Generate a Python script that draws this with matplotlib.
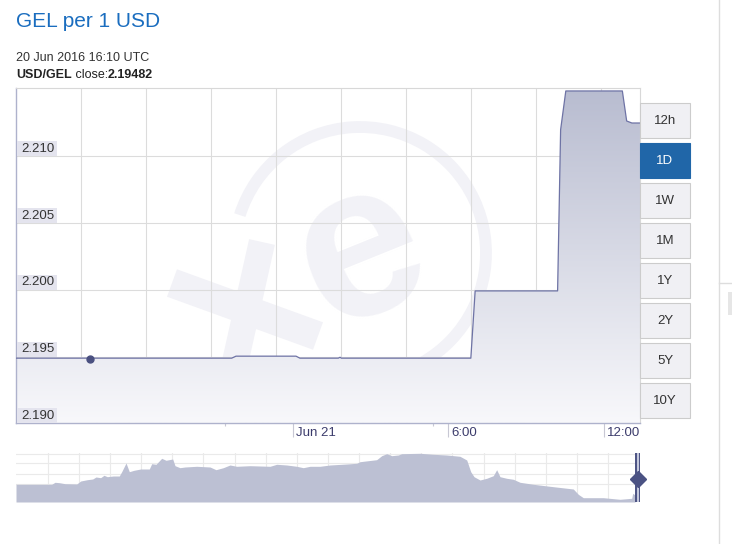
import matplotlib
matplotlib.use("Agg")
import matplotlib.pyplot as plt
import matplotlib.dates as mdates
import matplotlib.transforms as mtransforms
from matplotlib.patches import Rectangle, Arc
import numpy as np
import pandas as pd

plt.rcParams['font.family'] = ['Liberation Sans', 'DejaVu Sans']

# ---------------- data ----------------
title = "GEL per 1 USD"
hover_time_label = "20 Jun 2016 16:10 UTC"
pair_label = "USD/GEL"
close_value = "2.19482"

rate_times = ["2016-06-20 13:18", "2016-06-20 21:38", "2016-06-20 21:48",
              "2016-06-21 00:07", "2016-06-21 00:16", "2016-06-21 01:45",
              "2016-06-21 01:49", "2016-06-21 01:52", "2016-06-21 06:52",
              "2016-06-21 07:02", "2016-06-21 10:13", "2016-06-21 10:20",
              "2016-06-21 10:32", "2016-06-21 12:43", "2016-06-21 12:53",
              "2016-06-21 13:05", "2016-06-21 13:24"]
rate_values = [2.19488, 2.19488, 2.19503, 2.19503, 2.19488, 2.19488,
               2.19495, 2.19488, 2.19488, 2.19992, 2.19992, 2.21200,
               2.21490, 2.21490, 2.21265, 2.21250, 2.21250]

hover_time = "2016-06-20 16:10"
hover_value = 2.19482

x_range = ["2016-06-20 13:18:18", "2016-06-21 13:23:53"]
y_range = [2.190, 2.2151]
y_ticks = [2.190, 2.195, 2.200, 2.205, 2.210]
y_tick_labels = ["2.190", "2.195", "2.200", "2.205", "2.210"]
x_ticks = ["2016-06-21 00:00", "2016-06-21 06:00", "2016-06-21 12:00"]
x_tick_labels = ["Jun 21", "6:00", "12:00"]
x_minor_ticks = ["2016-06-20 21:22", "2016-06-21 05:25"]

range_buttons = ["12h", "1D", "1W", "1M", "1Y", "2Y", "5Y", "10Y"]
selected_button = "1D"

# navigator (long-term history), position in % of width, level in relative units
nav_pos = [0, 5.72, 6.25, 6.94, 7.85, 9.73, 10.37, 11.43, 12.29, 12.82, 13.57,
           14.10, 14.63, 15.59, 16.55, 16.94, 17.63, 18.16, 18.91, 19.98, 21.36,
           21.75, 22.44, 23.35, 24.04, 25.11, 25.48, 26.28, 27.08, 28.96, 31.09,
           32.05, 33.22, 34.29, 35.37, 37.50, 40.71, 41.78, 43.38, 44.98, 46.04,
           47.12, 48.72, 50.32, 53.00, 54.60, 55.13, 57.80, 58.61, 59.41, 60.21,
           61.27, 61.81, 64.74, 66.88, 69.02, 71.15, 72.23, 72.87, 73.40, 74.36,
           75.43, 76.49, 77.03, 77.56, 78.64, 79.70, 80.77, 82.90, 86.11, 89.31,
           90.11, 90.91, 94.12, 96.79, 98.67, 98.83, 99.20]
nav_level = [17.7, 17.7, 19.7, 19.3, 18.3, 18.0, 21.0, 22.3, 23.0, 25.0, 24.3,
             26.7, 25.3, 26.0, 26.0, 30.3, 39.0, 30.3, 31.7, 33.0, 33.0,
             38.3, 37.7, 43.7, 41.7, 43.0, 36.3, 34.3, 35.0, 35.7, 35.0,
             32.3, 34.3, 37.0, 35.7, 36.3, 35.7, 37.7, 37.0, 35.7, 34.3,
             35.7, 35.7, 37.0, 38.0, 38.7, 40.3, 42.3, 46.3, 48.3, 46.3,
             47.0, 48.3, 48.7, 47.7, 47.0, 45.7, 42.0, 30.3, 25.3, 22.0,
             23.7, 26.3, 32.3, 25.3, 23.7, 22.7, 19.7, 17.7, 15.3, 13.0,
             7.7, 4.3, 4.3, 2.7, 3.7, 8.7, 7.0]
nav_handle_pos = [99.36, 99.92]
nav_handle_level = 23

# ---------------- figure ----------------
W, H = 732, 544
fig = plt.figure(figsize=(W / 100, H / 100), dpi=100)
fig.patch.set_facecolor("white")

def fx(px):
    return px / W

def fy(py):
    return 1 - py / H

# page chrome on the right
fig.add_artist(plt.Line2D([fx(719), fx(719)], [0, 1], color="#dddddd", lw=1))
fig.add_artist(plt.Line2D([fx(719), fx(732)], [fy(283), fy(283)], color="#dddddd", lw=1))
fig.add_artist(Rectangle((fx(728), fy(315)), fx(4), 23 / H, color="#e6e6e6", lw=0))

# header texts
fig.text(fx(16), fy(27), title, fontsize=15, color="#1a6dbf", va="baseline")
fig.text(fx(16), fy(61), hover_time_label, fontsize=9, color="#333333", va="baseline")
renderer = fig.canvas.get_renderer()
xpos = fx(16)
for txt, wt in [(pair_label, "bold"), (" close:", "normal"), (close_value, "bold")]:
    t = fig.text(xpos, fy(78), txt, fontsize=9, color="#222222", va="baseline", fontweight=wt)
    bb = t.get_window_extent(renderer=renderer)
    xpos += bb.width / W

# ---------------- main axes ----------------
ax = fig.add_axes([fx(16), fy(423.3), (640 - 16) / W, (423.3 - 88.3) / H])
ax.set_facecolor("white")

t = pd.to_datetime(rate_times)
tn = mdates.date2num(t)
xlim = mdates.date2num(pd.to_datetime(x_range))
ax.set_xlim(xlim[0], xlim[1])
ax.set_ylim(*y_range)

# watermark (xe logo) in figure pixel coordinates
wm = "#f2f2f7"
ax.add_artist(Arc((fx(360), fy(253)), 252 / W, 252 / H, theta1=-107, theta2=157,
                  transform=fig.transFigure, color=wm, lw=8.5, zorder=0.5))
ax.plot([fx(172), fx(318)], [fy(283), fy(336)], transform=fig.transFigure,
        color=wm, lw=21, solid_capstyle="butt", zorder=0.5)
ax.plot([fx(262), fx(230)], [fy(242), fy(385)], transform=fig.transFigure,
        color=wm, lw=19, solid_capstyle="butt", zorder=0.5)
ax.text(fx(361), fy(254), "e", transform=fig.transFigure, fontsize=158,
        fontweight="bold", color=wm, rotation=22, ha="center", va="center",
        zorder=0.5, family="Liberation Sans")

# grid
for k in range(1, 10):
    f = k * 65 / 624
    ax.plot([f, f], [0, 1], transform=ax.transAxes, color="#dcdcdc", lw=0.8, zorder=1)
for v in y_ticks[1:]:
    ax.axhline(v, color="#dcdcdc", lw=0.8, zorder=1)

# gradient area fill
poly = ax.fill_between(tn, rate_values, y_range[0], facecolor="none", edgecolor="none", zorder=2)
top_c = np.array([184, 188, 208]) / 255
bot_c = np.array([248, 248, 251]) / 255
g = np.linspace(0, 1, 256)[:, None, None]
grad = top_c[None, None, :] * (1 - g) + bot_c[None, None, :] * g
im = ax.imshow(grad, extent=[xlim[0], xlim[1], y_range[0], y_range[1]],
               aspect="auto", origin="upper", zorder=2, interpolation="bilinear")
im.set_clip_path(poly.get_paths()[0], transform=ax.transData)
ax.set_xlim(xlim[0], xlim[1])
ax.set_ylim(*y_range)

ax.plot(tn, rate_values, color="#6e73a5", lw=0.9, zorder=3)
ax.plot(mdates.date2num(pd.to_datetime(hover_time)), hover_value, "o",
        color="#4a5080", markersize=5, zorder=4)

# spines
for s in ["top", "right"]:
    ax.spines[s].set_color("#d8d8d8")
    ax.spines[s].set_linewidth(0.8)
for s in ["left", "bottom"]:
    ax.spines[s].set_color("#aeb2cc")
    ax.spines[s].set_linewidth(1.0)

# y labels inside plot with boxes
ax.set_yticks([])
blend = mtransforms.blended_transform_factory(ax.transAxes, ax.transData)
px_y = (y_range[1] - y_range[0]) / 335.0
for v, lab in zip(y_ticks, y_tick_labels):
    ax.add_patch(Rectangle((1 / 624, v), 40 / 624, 15 * px_y, transform=blend,
                           facecolor="#e4e4ee", edgecolor="none", zorder=5))
    ax.text(5 / 624, v + 7.5 * px_y, lab, transform=blend, fontsize=9.5,
            color="#333333", va="center", ha="left", zorder=6)

# x ticks
xt = mdates.date2num(pd.to_datetime(x_ticks))
ax.set_xticks(xt)
ax.set_xticklabels([])
ax.set_xticks(mdates.date2num(pd.to_datetime(x_minor_ticks)), minor=True)
ax.tick_params(axis="x", which="major", length=10, width=0.8, color="#c8c8d4", direction="out")
ax.tick_params(axis="x", which="minor", length=2.5, width=0.8, color="#c8c8d4", direction="out")
for xv, lab in zip(xt, x_tick_labels):
    ax.annotate(lab, xy=(xv, 0), xycoords=("data", "axes fraction"),
                xytext=(2.5, -3), textcoords="offset points", fontsize=9.5,
                color="#3c3c6c", ha="left", va="top", annotation_clip=False)

# ---------------- range buttons ----------------
for i, lab in enumerate(range_buttons):
    top = 103 + 40 * i
    sel = lab == selected_button
    fig.add_artist(Rectangle((fx(640), fy(top + 35)), 49.5 / W, 35 / H,
                             facecolor="#2066a8" if sel else "#f0f0f4",
                             edgecolor="#2066a8" if sel else "#cccccc", lw=0.8,
                             transform=fig.transFigure))
    fig.text(fx(665), fy(top + 18), lab, fontsize=9.5,
             color="white" if sel else "#333333", ha="center", va="center")

# ---------------- navigator ----------------
ax2 = fig.add_axes([fx(16), fy(502), 624 / W, 49 / H])
ax2.set_xlim(0, 100)
ax2.set_ylim(0, 49)
for s in ax2.spines.values():
    s.set_visible(False)
ax2.set_xticks([])
ax2.set_yticks([])
for k in range(19):
    ax2.axvline(5.08 + 4.99 * k, color="#eaeaea", lw=0.8, zorder=0)
for v in [48.5, 38.7, 28.3, 18.0]:
    ax2.axhline(v, color="#eaeaea", lw=0.8, zorder=0)
ax2.fill_between(nav_pos, nav_level, 0, color="#bcc0d3", lw=0, zorder=1)
ax2.axvspan(nav_handle_pos[0], nav_handle_pos[1], color="#c4c8dc", zorder=2)
for p in nav_handle_pos:
    ax2.axvline(p, color="#4b5283", lw=1.4, zorder=3)
ax2.plot(sum(nav_handle_pos) / 2, nav_handle_level, "D", color="#4b5283",
         markersize=8, zorder=4, clip_on=False)

fig.savefig("out.png", dpi=100)
